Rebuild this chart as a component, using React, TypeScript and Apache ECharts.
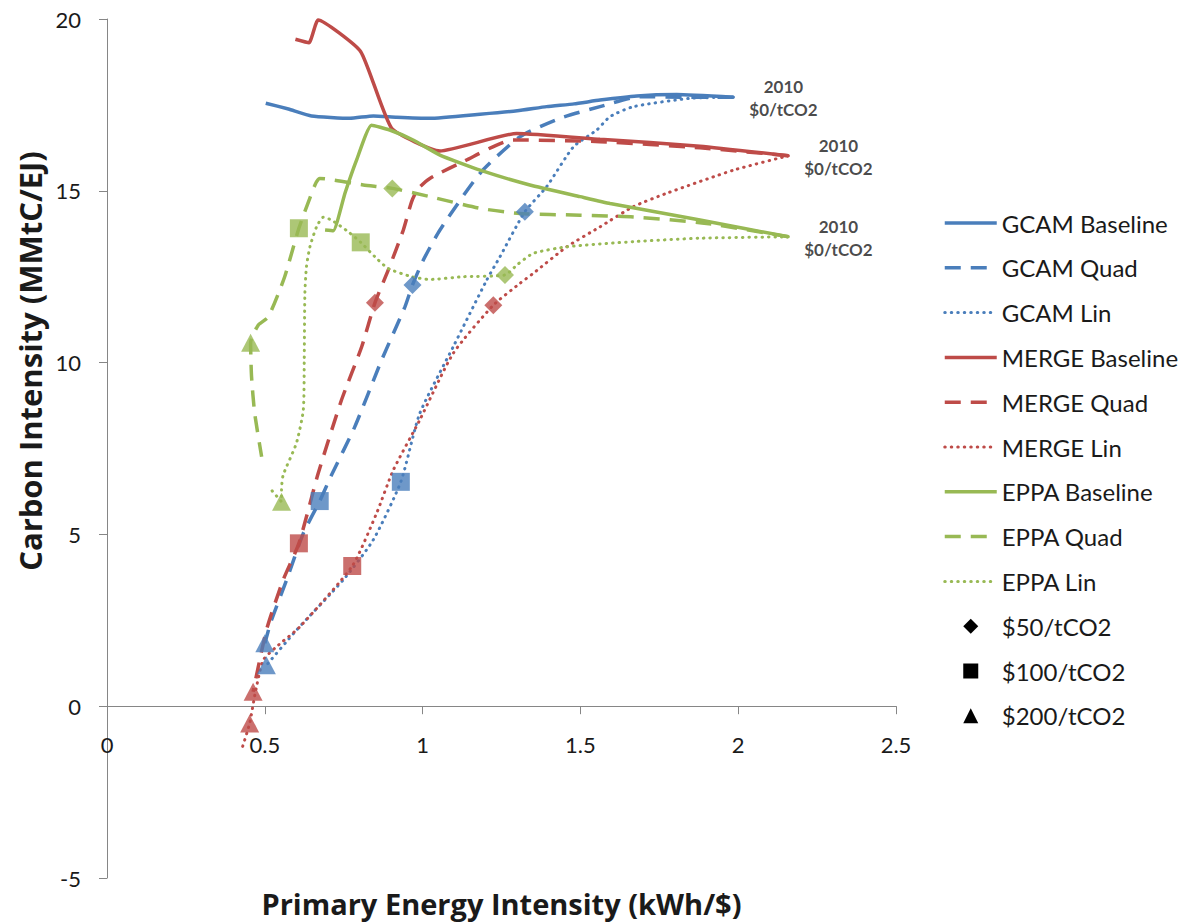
import React, { useEffect, useRef } from 'react';
import * as echarts from 'echarts';

// ---- data (x: primary energy intensity kWh/$, y: carbon intensity MMtC/EJ) ----
const GCAM_BASELINE = [
  [0.503, 17.55], [0.575, 17.38], [0.648, 17.18], [0.770, 17.11], [0.844, 17.18],
  [0.918, 17.14], [1.023, 17.11], [1.182, 17.23], [1.300, 17.33], [1.393, 17.45],
  [1.480, 17.53], [1.562, 17.64], [1.679, 17.76], [1.805, 17.80], [1.985, 17.72],
];
const GCAM_QUAD = [
  [1.985, 17.72], [1.850, 17.72], [1.689, 17.74], [1.562, 17.45], [1.435, 17.11],
  [1.308, 16.57], [1.182, 15.51], [1.055, 13.86], [1.002, 12.98], [0.968, 12.26],
  [0.944, 11.62], [0.870, 10.07], [0.785, 8.13], [0.711, 6.72], [0.674, 5.97],
  [0.622, 5.03], [0.569, 3.67], [0.521, 2.50], [0.500, 1.83],
];
const GCAM_LIN = [
  [1.985, 17.72], [1.847, 17.69], [1.668, 17.45], [1.594, 17.16], [1.552, 16.77],
  [1.478, 16.28], [1.393, 15.12], [1.324, 14.39], [1.245, 13.08], [1.203, 12.40],
  [1.097, 10.46], [0.991, 8.52], [0.931, 6.53], [0.843, 4.83], [0.748, 3.67],
  [0.600, 2.21], [0.505, 1.19],
];
const MERGE_BASELINE = [
  [0.597, 19.41], [0.640, 19.31], [0.669, 19.97], [0.804, 19.05], [0.902, 16.82],
  [1.055, 16.16], [1.298, 16.67], [1.562, 16.50], [1.879, 16.30], [2.159, 16.02],
];
const MERGE_QUAD = [
  [2.159, 16.02], [1.879, 16.25], [1.562, 16.43], [1.287, 16.48], [1.129, 15.85],
  [1.023, 15.36], [0.985, 15.05], [0.965, 14.68], [0.939, 13.86], [0.891, 12.69],
  [0.849, 11.74], [0.807, 10.46], [0.743, 8.91], [0.669, 6.77], [0.608, 4.74],
  [0.558, 3.67], [0.505, 2.21], [0.463, 0.42],
];
const MERGE_LIN = [
  [2.159, 16.02], [1.985, 15.60], [1.774, 14.93], [1.668, 14.54], [1.562, 13.95],
  [1.457, 13.37], [1.351, 12.60], [1.309, 12.31], [1.224, 11.67], [1.097, 10.27],
  [0.991, 8.33], [0.907, 6.87], [0.854, 5.61], [0.777, 4.08], [0.611, 2.31],
  [0.537, 1.73], [0.495, 1.34], [0.470, 0.40], [0.452, -0.50], [0.426, -1.28],
];
const EPPA_BASELINE = [
  [0.691, 13.86], [0.717, 13.84], [0.754, 14.93], [0.791, 15.90], [0.838, 16.91],
  [0.896, 16.77], [0.970, 16.48], [1.055, 16.04], [1.182, 15.60], [1.340, 15.17],
  [1.499, 14.83], [1.594, 14.63], [1.879, 14.15], [2.159, 13.66],
];
const EPPA_QUAD = [
  [2.159, 13.66], [1.900, 14.05], [1.668, 14.24], [1.499, 14.29], [1.308, 14.34],
  [1.182, 14.49], [1.023, 14.83], [0.904, 15.07], [0.812, 15.17], [0.674, 15.36],
  [0.659, 15.17], [0.608, 13.91], [0.563, 12.50], [0.511, 11.33], [0.479, 11.09],
  [0.455, 10.58], [0.458, 9.59], [0.468, 8.52], [0.490, 7.26],
];
const EPPA_LIN = [
  [2.159, 13.66], [1.879, 13.62], [1.668, 13.52], [1.457, 13.37], [1.351, 13.18],
  [1.300, 12.85], [1.261, 12.55], [1.129, 12.50], [1.023, 12.42], [0.965, 12.50],
  [0.891, 12.74], [0.849, 13.08], [0.804, 13.50], [0.764, 13.81], [0.711, 14.15],
  [0.685, 14.23], [0.664, 13.95], [0.643, 13.37], [0.632, 12.79], [0.627, 12.01],
  [0.625, 10.07], [0.622, 8.62], [0.600, 7.65], [0.558, 6.72], [0.553, 6.29],
  [0.553, 5.95], [0.521, 6.29],
];

// carbon price markers: [x, y, model]
const PRICE_50 = [
  [0.968, 12.26, 'GCAM'], [1.324, 14.39, 'GCAM'], [0.849, 11.74, 'MERGE'],
  [1.224, 11.67, 'MERGE'], [0.904, 15.07, 'EPPA'], [1.261, 12.55, 'EPPA'],
];
const PRICE_100 = [
  [0.674, 5.97, 'GCAM'], [0.931, 6.53, 'GCAM'], [0.608, 4.74, 'MERGE'],
  [0.777, 4.08, 'MERGE'], [0.608, 13.91, 'EPPA'], [0.804, 13.50, 'EPPA'],
];
const PRICE_200 = [
  [0.500, 1.83, 'GCAM'], [0.505, 1.19, 'GCAM'], [0.463, 0.42, 'MERGE'],
  [0.452, -0.50, 'MERGE'], [0.455, 10.58, 'EPPA'], [0.553, 5.95, 'EPPA'],
];

// 2010 starting points that carry the "2010 $0/tCO2" annotation
const START_2010 = [[1.985, 17.72], [2.159, 16.02], [2.159, 13.66]];
const START_LABEL = '2010\n$0/tCO2';

const X_TICKS = { min: 0, max: 2.5, interval: 0.5 };
const Y_TICKS = { min: -5, max: 20, interval: 5 };

const COLORS: Record<string, string> = { GCAM: '#4A7EBB', MERGE: '#BE4B48', EPPA: '#98B954' };
const FONT = 'Lato, "Open Sans", sans-serif';
const TITLE_FONT = '"Open Sans", Lato, sans-serif';
const TEXT = '#1A1A1A';

const DASHED = [16, 10];
const DOTTED = [0.5, 6];

const ICON_DIAMOND = 'path://M0,-1L1,0L0,1L-1,0Z';
const ICON_SQUARE = 'path://M0,0H1V1H0Z';
const ICON_TRIANGLE = 'path://M0,-1L1,1L-1,1Z';

const GRID = { left: 107, top: 19, width: 789, height: 859 };
// the x axis is drawn where y = 0: shift it up from the grid's bottom edge
const X_AXIS_OFFSET = -(GRID.height * (0 - Y_TICKS.min)) / (Y_TICKS.max - Y_TICKS.min);

function lineSeries(name: string, data: number[][], color: string, kind: 'solid' | 'dashed' | 'dotted') {
  return {
    type: 'line',
    name,
    data,
    symbol: 'none',
    showSymbol: false,
    smooth: kind === 'solid' ? 0.15 : 0.2,
    z: 2,
    silent: true,
    itemStyle: { color },
    lineStyle: {
      color,
      width: kind === 'dotted' ? 3 : 3.5,
      type: kind === 'solid' ? 'solid' : kind === 'dashed' ? DASHED : DOTTED,
      cap: kind === 'dotted' ? 'round' : 'butt',
    },
  };
}

function markerSeries(name: string, pts: (number | string)[][], symbol: string, size: number | number[]) {
  return {
    type: 'scatter',
    name,
    symbol,
    symbolSize: size,
    z: 5,
    silent: true,
    itemStyle: { color: '#000' },
    data: pts.map((p) => ({ value: [p[0], p[1]], itemStyle: { color: COLORS[p[2] as string] } })),
  };
}

export default function App() {
  const ref = useRef<HTMLDivElement>(null);
  useEffect(() => {
    if (!ref.current) return;
    const chart = echarts.init(ref.current, undefined, { renderer: 'svg' });
    const lineLegend = (name: string, width: number) => ({ name, lineStyle: { width } });
    const markLegend = (name: string, icon: string) => ({ name, icon, itemStyle: { opacity: 1 } });
    chart.setOption({
      animation: false,
      backgroundColor: '#fff',
      textStyle: { fontFamily: FONT },
      grid: { ...GRID, containLabel: false, outerBoundsMode: 'none' },
      xAxis: {
        type: 'value',
        ...X_TICKS,
        position: 'bottom',
        offset: X_AXIS_OFFSET,
        name: 'Primary Energy Intensity (kWh/$)',
        nameLocation: 'middle',
        nameGap: 183,
        nameTextStyle: { fontSize: 29, fontWeight: 'bold', color: TEXT, fontFamily: TITLE_FONT },
        axisLine: { onZero: false, lineStyle: { color: '#868686', width: 1 } },
        axisTick: { show: true, length: 8, lineStyle: { color: '#868686' } },
        axisLabel: { margin: 27, fontSize: 22, color: TEXT, fontFamily: FONT },
        splitLine: { show: false },
      },
      yAxis: {
        type: 'value',
        ...Y_TICKS,
        axisLine: { show: true, onZero: false, lineStyle: { color: '#868686', width: 1 } },
        axisTick: { show: true, length: 8, lineStyle: { color: '#868686' } },
        axisLabel: { margin: 26, fontSize: 22, color: TEXT, fontFamily: FONT },
        splitLine: { show: false },
      },
      legend: {
        orient: 'vertical',
        left: 943,
        top: 211,
        padding: 0,
        itemWidth: 52,
        itemHeight: 15,
        itemGap: 20.8,
        selectedMode: false,
        itemStyle: { opacity: 0 },
        lineStyle: { width: 3.5 },
        textStyle: { fontSize: 24, color: TEXT, fontFamily: FONT },
        data: [
          lineLegend('GCAM Baseline', 3.5), lineLegend('GCAM Quad', 3.5), lineLegend('GCAM Lin', 3),
          lineLegend('MERGE Baseline', 3.5), lineLegend('MERGE Quad', 3.5), lineLegend('MERGE Lin', 3),
          lineLegend('EPPA Baseline', 3.5), lineLegend('EPPA Quad', 3.5), lineLegend('EPPA Lin', 3),
          markLegend('$50/tCO2', ICON_DIAMOND),
          markLegend('$100/tCO2', ICON_SQUARE),
          markLegend('$200/tCO2', ICON_TRIANGLE),
        ],
      },
      graphic: [
        {
          type: 'text',
          x: 30,
          y: 361,
          rotation: Math.PI / 2,
          style: {
            text: 'Carbon Intensity (MMtC/EJ)',
            font: `bold 31px ${TITLE_FONT}`,
            fill: TEXT,
            align: 'center',
            verticalAlign: 'middle',
          },
        },
      ],
      series: [
        lineSeries('GCAM Baseline', GCAM_BASELINE, COLORS.GCAM, 'solid'),
        lineSeries('GCAM Quad', GCAM_QUAD, COLORS.GCAM, 'dashed'),
        lineSeries('GCAM Lin', GCAM_LIN, COLORS.GCAM, 'dotted'),
        lineSeries('MERGE Baseline', MERGE_BASELINE, COLORS.MERGE, 'solid'),
        lineSeries('MERGE Quad', MERGE_QUAD, COLORS.MERGE, 'dashed'),
        lineSeries('MERGE Lin', MERGE_LIN, COLORS.MERGE, 'dotted'),
        lineSeries('EPPA Baseline', EPPA_BASELINE, COLORS.EPPA, 'solid'),
        lineSeries('EPPA Quad', EPPA_QUAD, COLORS.EPPA, 'dashed'),
        lineSeries('EPPA Lin', EPPA_LIN, COLORS.EPPA, 'dotted'),
        markerSeries('$50/tCO2', PRICE_50, 'diamond', 18),
        markerSeries('$100/tCO2', PRICE_100, 'rect', 18),
        markerSeries('$200/tCO2', PRICE_200, 'triangle', [19, 18]),
        {
          type: 'scatter',
          name: '2010 start',
          data: START_2010,
          symbolSize: 1,
          itemStyle: { color: 'rgba(0,0,0,0)' },
          silent: true,
          z: 6,
          label: {
            show: true,
            formatter: START_LABEL,
            position: 'inside',
            offset: [50, 1],
            align: 'center',
            verticalAlign: 'middle',
            fontSize: 17,
            lineHeight: 23,
            fontWeight: 'bold',
            color: TEXT,
            fontFamily: FONT,
          },
        },
      ],
    });
    return () => chart.dispose();
  }, []);
  return <div ref={ref} style={{ position: 'fixed', left: 0, top: 0, width: 1186, height: 923 }} />;
}
